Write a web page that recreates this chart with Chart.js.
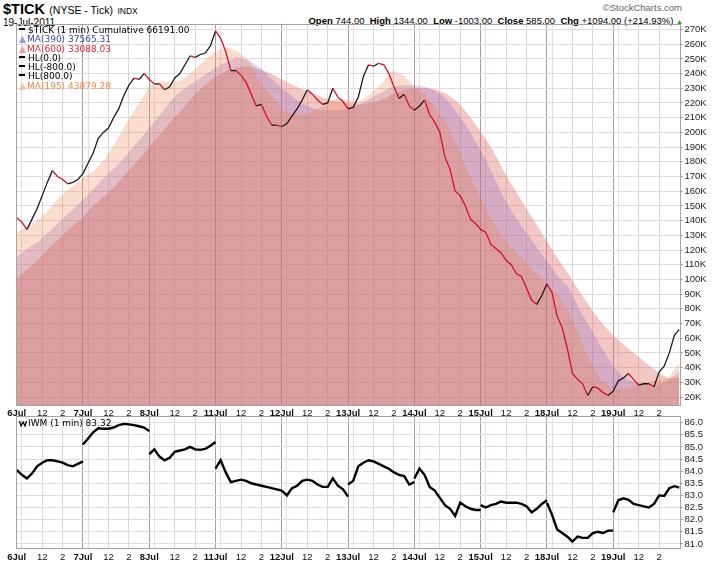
<!DOCTYPE html>
<html>
<head>
<meta charset="utf-8">
<script src="https://cdn.jsdelivr.net/npm/chart.js@4.4.0/dist/chart.umd.min.js"></script>
<style>
  body { margin: 0; background: #fff; width: 713px; height: 570px; overflow: hidden; position: relative;
         font-family: "Liberation Sans", Arial, sans-serif; color: #000; }
  canvas { position: absolute; left: 0; }
  .abs { position: absolute; white-space: nowrap; }
  .lgd { font-family: "DejaVu Sans", Verdana, sans-serif; font-size: 9px; line-height: 9.3px; }
  .dash { display: inline-block; width: 6px; height: 2px; background: #000; vertical-align: 3px; margin-right: 3px; }
  .lgd svg { vertical-align: -1px; margin-right: 1px; }
</style>
</head>
<body>
<div class="abs" style="left:3px;top:1px;line-height:16px"><span style="font-weight:bold;font-size:14.5px">$TICK</span> <span style="font-size:10.5px">(NYSE - Tick)</span> <span style="font-size:8.5px">INDX</span></div>
<div class="abs" style="left:3px;top:17px;font-size:10px;line-height:12px">19-Jul-2011</div>
<div class="abs" style="right:31px;top:2px;font-size:9.5px;line-height:12px;color:#666">&copy;StockCharts.com</div>
<div class="abs" style="right:30px;top:15px;font-size:9.5px;line-height:12px"><b>Open</b> 744.00 &nbsp;<b>High</b> 1344.00 &nbsp;<b>Low</b> -1003.00 &nbsp;<b>Close</b> 585.00 &nbsp;<b>Chg</b> +1094.00 (+214.93%) <span style="color:#2a9a2a;font-size:7px">&#9650;</span></div>

<canvas id="tickChart" width="713" height="418" style="top:0"></canvas>
<canvas id="iwmChart" width="713" height="162" style="top:408px"></canvas>

<div class="abs lgd" style="left:19px;top:26px">
  <div><span class="dash"></span>$TICK (1 min) Cumulative 66191.00</div>
  <div style="color:#3c46a6"><svg width="7" height="7"><path d="M0 7L3.5 0L7 7Z" fill="#9a9ad8"/></svg>MA(390) 37565.31</div>
  <div style="color:#e0283c"><svg width="7" height="7"><path d="M0 7L3.5 0L7 7Z" fill="#f0a0a0"/></svg>MA(600) 33088.03</div>
  <div><span class="dash"></span>HL(0.0)</div>
  <div><span class="dash"></span>HL(-800.0)</div>
  <div><span class="dash"></span>HL(800.0)</div>
  <div style="color:#f5864a"><svg width="7" height="7"><path d="M0 7L3.5 0L7 7Z" fill="#f8c0a0"/></svg>MA(195) 43879.28</div>
</div>
<div class="abs lgd" style="left:19px;top:419px">
  <svg width="8" height="7"><path d="M0.5 1L2 6L4 2L6 6L7.5 1" stroke="#000" stroke-width="1.3" fill="none"/></svg>IWM (1 min) 83.32
</div>

<script>
// Session layout: 10 trading days of 390 minutes, x is minutes since the 6 Jul open
const dayLabels = ['6Jul', '7Jul', '8Jul', '11Jul', '12Jul', '13Jul', '14Jul', '15Jul', '18Jul', '19Jul'];
const intradayTicks = [[30, ''], [150, '12'], [270, '2']]; // 10:00, 12:00, 14:00
const sessionMinutes = 390;
const sampleStep = 30; // minutes between $TICK / IWM samples
const maStep = 65;     // minutes between moving average samples

// $TICK cumulative, thousands (13 samples per day + last print)
const tickCum = [
  142, 139, 134, 141, 148, 157, 166, 174, 170, 168, 165, 166, 168,
  172, 179, 186, 196, 200, 203, 210, 216, 225, 232, 237, 236, 240,
  236, 233, 233, 229, 231, 237, 240, 246, 252, 251, 253, 254, 259,
  269, 264, 255, 242, 242, 239, 234, 226, 218, 219, 211, 205, 205,
  204, 206, 211, 216, 222, 229, 226, 222, 219, 220, 230, 224, 221,
  216, 217, 224, 238, 246, 245, 247, 246, 240, 231, 223, 226, 218,
  215, 218, 222, 212, 207, 200, 183, 175, 160, 157, 150, 141, 138,
  134, 132, 124, 121, 118, 113, 110, 104, 102, 94, 86, 83, 89,
  97, 91, 75, 67, 53, 36, 32, 29, 21, 27, 26, 23, 21,
  24, 31, 33, 36, 32, 28, 29, 29, 27, 37, 41, 50, 62,
  66.19
];

// moving averages of $TICK, thousands (6 samples per day + last)
const ma195 = [
  132, 136, 141, 148, 157, 163, 169, 174, 182, 194, 207, 219, 231, 235, 234, 236, 242, 249, 255, 258,
  255, 249, 234, 226, 216, 212, 212, 215, 219, 223, 222, 221, 226, 233, 242, 239, 231, 225, 216, 205,
  189, 171, 155, 140, 129, 120, 112, 104, 97, 89, 78, 60, 43, 31, 25, 26, 28, 30, 31, 33, 43.88
];
const ma390 = [
  115.5, 121, 126, 133, 140, 147, 154, 162, 170, 177, 185, 194, 203, 212, 222, 229, 234, 239, 244, 248,
  251, 249, 244, 237, 230, 224, 219, 216, 215, 215, 216, 219, 223, 227, 231, 232, 232, 231, 228, 222,
  212, 201, 188, 173, 157, 144, 133, 123, 112, 102, 94, 79, 66, 53, 41, 33, 30, 29, 28, 31, 37.57
];
const ma600 = [
  100.7, 107, 114, 122, 129, 136, 142, 151, 157, 164, 173, 181, 190, 199, 208, 216, 225, 232, 238, 242,
  244, 245, 243, 240, 236, 232, 229, 226, 223, 221, 220, 219, 220, 222, 226, 229, 230, 230, 229, 226,
  220, 211, 200.5, 189, 175, 162, 150, 138, 126, 114, 103, 91, 80, 70, 62, 55, 49, 43, 37, 33, 33.09
];

// IWM 1 min, 14 samples per day (open .. close)
const iwm = [
  84.05, 83.85, 83.7, 83.9, 84.2, 84.35, 84.45, 84.45, 84.4, 84.35, 84.25, 84.2, 84.3, 84.4,
  85.1, 85.35, 85.6, 85.77, 85.75, 85.75, 85.8, 85.9, 85.95, 85.93, 85.9, 85.85, 85.8, 85.65,
  84.7, 84.9, 84.6, 84.45, 84.55, 84.8, 84.85, 84.9, 85.0, 84.9, 84.88, 84.92, 85.05, 85.2,
  84.1, 84.45, 83.95, 83.55, 83.6, 83.65, 83.6, 83.5, 83.45, 83.4, 83.35, 83.3, 83.25, 83.2,
  83.2, 83.0, 83.3, 83.4, 83.6, 83.65, 83.6, 83.45, 83.35, 83.35, 83.7, 83.4, 83.25, 82.95,
  83.45, 83.6, 84.2, 84.35, 84.45, 84.4, 84.3, 84.2, 84.1, 83.95, 83.85, 83.8, 83.45, 83.55,
  83.7, 84.1, 83.85, 83.35, 83.2, 82.9, 82.6, 82.45, 82.15, 82.7, 82.55, 82.45, 82.4, 82.4,
  82.6, 82.5, 82.6, 82.65, 82.75, 82.7, 82.7, 82.7, 82.65, 82.55, 82.3, 82.45, 82.65, 82.8,
  82.7, 82.2, 81.6, 81.45, 81.3, 81.1, 81.3, 81.25, 81.25, 81.45, 81.5, 81.45, 81.55, 81.55,
  82.3, 82.8, 82.88, 82.82, 82.65, 82.6, 82.55, 82.5, 82.65, 83.0, 82.98, 83.3, 83.38, 83.32
];

const tickAxisK = [20, 30, 40, 50, 60, 70, 80, 90, 100, 110, 120, 130, 140, 150, 160, 170, 180, 190,
  200, 210, 220, 230, 240, 250, 260, 270];
const iwmAxis = [81.0, 81.5, 82.0, 82.5, 83.0, 83.5, 84.0, 84.5, 85.0, 85.5, 86.0];

const FONT = "'Liberation Sans', Arial, sans-serif";
const totalMinutes = dayLabels.length * sessionMinutes;

// x ticks: day boundary, 10:00 (pink line), 12 and 2
const xTicks = [];
dayLabels.forEach((label, d) => {
  xTicks.push({ value: d * sessionMinutes, label, kind: 'day' });
  intradayTicks.forEach(([m, l]) => {
    xTicks.push({ value: d * sessionMinutes + m, label: l, kind: m === 30 ? 'half' : 'hour' });
  });
});

function series(values, step) {
  return values.map((v, i) => ({ x: i * step, y: v }));
}

function iwmPoints() {
  const per = iwm.length / dayLabels.length;
  const pts = [];
  for (let d = 0; d < dayLabels.length; d++) {
    for (let j = 0; j < per; j++) {
      pts.push({ x: d * sessionMinutes + j * sampleStep, y: iwm[d * per + j] });
    }
    if (d < dayLabels.length - 1) pts.push({ x: (d + 1) * sessionMinutes, y: null });
  }
  return pts;
}

function gridColor(c) {
  const t = xTicks[c.index];
  if (!t) return '#dddddd';
  if (t.kind === 'day') return '#a0a0a0';
  if (t.kind === 'half') return '#f5d6dc';
  return '#d8d8d8';
}

function xScale(height) {
  return {
    type: 'linear',
    min: 0,
    max: totalMinutes,
    afterBuildTicks: scale => { scale.ticks = xTicks.map(t => ({ value: t.value })); },
    afterFit: scale => { scale.height = height; },
    grid: { color: gridColor, drawTicks: false },
    border: { display: false },
    ticks: {
      autoSkip: false,
      maxRotation: 0,
      padding: 3,
      color: '#111',
      callback: (v, i) => xTicks[i] ? xTicks[i].label : '',
      font: c => ({ family: FONT, size: 9.5, weight: xTicks[c.index] && xTicks[c.index].kind === 'day' ? 'bold' : 'normal' })
    }
  };
}

function yScale(min, max, levels, fmt) {
  return {
    position: 'right',
    min,
    max,
    afterBuildTicks: scale => { scale.ticks = levels.map(v => ({ value: v })); },
    afterFit: scale => { scale.width = 33.5; },
    grid: { color: '#dcdcdc', tickLength: 3, tickColor: '#888' },
    border: { display: false },
    ticks: { autoSkip: false, padding: 2, color: '#222', font: { family: FONT, size: 9.5 }, callback: fmt }
  };
}

// gray frame round the plot area
const framePlugin = {
  id: 'frame',
  afterDatasetsDraw(chart) {
    const { ctx, chartArea: a } = chart;
    ctx.save();
    ctx.strokeStyle = '#a4a4a4';
    ctx.lineWidth = 1;
    ctx.strokeRect(Math.round(a.left) - 0.5, Math.round(a.top) - 0.5,
      Math.round(a.right - a.left) + 1, Math.round(a.bottom - a.top) + 1);
    ctx.restore();
  }
};

const common = {
  responsive: false,
  animation: false,
  events: [],
  plugins: { legend: { display: false }, tooltip: { enabled: false } },
  elements: { point: { radius: 0 }, line: { tension: 0 } }
};

new Chart(document.getElementById('tickChart'), {
  type: 'line',
  data: {
    datasets: [
      {
        label: '$TICK', data: series(tickCum, sampleStep), order: 0, borderWidth: 1.3,
        segment: { borderColor: c => c.p1.parsed.y < c.p0.parsed.y ? '#d2102e' : '#1a1a1a' }
      },
      { label: 'MA(195)', data: series(ma195, maStep), order: 1, borderWidth: 0, fill: 'start', backgroundColor: 'rgba(235,120,60,0.25)' },
      { label: 'MA(390)', data: series(ma390, maStep), order: 2, borderWidth: 0, fill: 'start', backgroundColor: 'rgba(150,110,200,0.3)' },
      { label: 'MA(600)', data: series(ma600, maStep), order: 3, borderWidth: 0, fill: 'start', backgroundColor: 'rgba(220,98,86,0.35)' }
    ]
  },
  options: {
    ...common,
    layout: { padding: { top: 25, left: 16.7, right: 0, bottom: 0 } },
    scales: {
      x: xScale(13),
      y: yScale(14.56, 273.06, tickAxisK, v => v + 'K')
    }
  },
  plugins: [framePlugin]
});

new Chart(document.getElementById('iwmChart'), {
  type: 'line',
  data: {
    datasets: [
      { label: 'IWM', data: iwmPoints(), borderColor: '#000', borderWidth: 2.4, spanGaps: false }
    ]
  },
  options: {
    ...common,
    layout: { padding: { top: 9.3, left: 16.7, right: 0, bottom: 0 } },
    scales: {
      x: xScale(21.7),
      y: yScale(80.82, 86.22, iwmAxis, v => v.toFixed(1))
    }
  },
  plugins: [framePlugin]
});
</script>
</body>
</html>
